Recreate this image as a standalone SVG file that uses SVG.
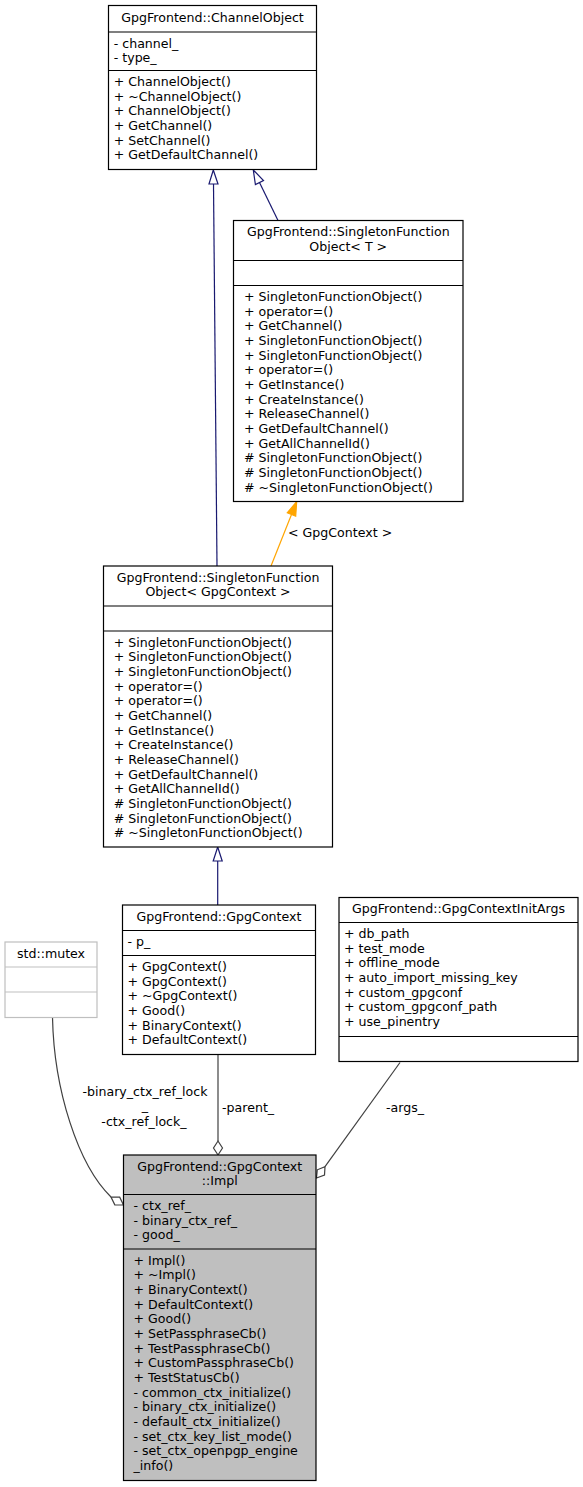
<svg xmlns="http://www.w3.org/2000/svg" width="583" height="1487" viewBox="0 0 583 1487">
<style>
text{font-family:"DejaVu Sans","Liberation Sans",sans-serif;font-size:12.6px;fill:#000}
.t{text-anchor:middle}
.box{fill:#fff;stroke:#000;stroke-width:1.2}
.ext{fill:#fff;stroke:#bfbfbf;stroke-width:1.2}
.cur{fill:#bfbfbf;stroke:#000;stroke-width:1.2}
.sep{stroke:#000;stroke-width:1.2}
.sepx{stroke:#bfbfbf;stroke-width:1.2}
.inh{fill:none;stroke:#191970;stroke-width:1.2}
.inhh{fill:#fff;stroke:#191970;stroke-width:1.2}
.tpl{fill:none;stroke:#ffa500;stroke-width:1.2}
.tplh{fill:#ffa500;stroke:#ffa500;stroke-width:1.2}
.use{fill:none;stroke:#404040;stroke-width:1.2}
.useh{fill:#fff;stroke:#404040;stroke-width:1.2}
</style>
<rect width="583" height="1487" fill="#fff"/>
<g id="connectors">
  <path class="inh" d="M217,566 L213.5,184"/>
  <polygon class="inhh" points="213.3,170 218,184 209,184"/>
  <path class="inh" d="M278,220.5 L259.5,182.6"/>
  <polygon class="inhh" points="253.3,170 263.5,180.6 255.4,184.6"/>
  <path class="tpl" d="M271,566 L291.5,514.5"/>
  <polygon class="tplh" points="296.7,501.5 295.7,516.2 287.3,512.8"/>
  <text x="288" y="537">&lt; GpgContext &gt;</text>
  <path class="inh" d="M217.7,905 L217.7,861"/>
  <polygon class="inhh" points="217.7,847 222.2,861 213.2,861"/>
  <path class="use" d="M218,1054.5 L218,1141"/>
  <polygon class="useh" points="218,1155 222.5,1148 218,1141 213.5,1148"/>
  <text x="222" y="1112">-parent_</text>
  <path class="use" d="M52.5,1017.5 C54,1090 78,1165 111,1197"/>
  <polygon class="useh" points="123.5,1205 119.7,1197.2 111,1197 114.8,1204.8"/>
  <text class="t" x="145" y="1096">-binary_ctx_ref_lock</text>
  <text class="t" x="145" y="1110">_</text>
  <text class="t" x="144" y="1126">-ctx_ref_lock_</text>
  <path class="use" d="M400,1062.5 L325,1166.7"/>
  <polygon class="useh" points="316.5,1178 324.5,1175 325,1166.7 317.3,1169.8"/>
  <text x="386" y="1112">-args_</text>
</g>
<g id="ChannelObject">
  <rect class="box" x="108.5" y="5.5" width="208" height="164"/>
  <line class="sep" x1="108.5" y1="32" x2="316.5" y2="32"/>
  <line class="sep" x1="108.5" y1="70.5" x2="316.5" y2="70.5"/>
  <text class="t" x="212.5" y="21.5">GpgFrontend::ChannelObject</text>
  <text x="113.7" y="47.5"><tspan x="113.7">- channel_</tspan><tspan x="113.7" dy="14.67">- type_</tspan></text>
  <text x="113.7" y="86"><tspan x="113.7">+ ChannelObject()</tspan><tspan x="113.7" dy="14.67">+ ~ChannelObject()</tspan><tspan x="113.7" dy="14.67">+ ChannelObject()</tspan><tspan x="113.7" dy="14.67">+ GetChannel()</tspan><tspan x="113.7" dy="14.67">+ SetChannel()</tspan><tspan x="113.7" dy="14.67">+ GetDefaultChannel()</tspan></text>
</g>
<g id="SingletonFunctionObjectT">
  <rect class="box" x="233.5" y="220.5" width="229.5" height="281"/>
  <line class="sep" x1="233.5" y1="260.5" x2="463" y2="260.5"/>
  <line class="sep" x1="233.5" y1="285.5" x2="463" y2="285.5"/>
  <text class="t" x="348.25" y="236"><tspan x="348.25">GpgFrontend::SingletonFunction</tspan><tspan x="348.25" dy="14.67">Object&lt; T &gt;</tspan></text>
  <text x="244" y="301"><tspan x="244">+ SingletonFunctionObject()</tspan><tspan x="244" dy="14.67">+ operator=()</tspan><tspan x="244" dy="14.67">+ GetChannel()</tspan><tspan x="244" dy="14.67">+ SingletonFunctionObject()</tspan><tspan x="244" dy="14.67">+ SingletonFunctionObject()</tspan><tspan x="244" dy="14.67">+ operator=()</tspan><tspan x="244" dy="14.67">+ GetInstance()</tspan><tspan x="244" dy="14.67">+ CreateInstance()</tspan><tspan x="244" dy="14.67">+ ReleaseChannel()</tspan><tspan x="244" dy="14.67">+ GetDefaultChannel()</tspan><tspan x="244" dy="14.67">+ GetAllChannelId()</tspan><tspan x="244" dy="14.67"># SingletonFunctionObject()</tspan><tspan x="244" dy="14.67"># SingletonFunctionObject()</tspan><tspan x="244" dy="14.67"># ~SingletonFunctionObject()</tspan></text>
</g>
<g id="SingletonFunctionObjectGpgContext">
  <rect class="box" x="103.5" y="566" width="229" height="281"/>
  <line class="sep" x1="103.5" y1="606" x2="332.5" y2="606"/>
  <line class="sep" x1="103.5" y1="631" x2="332.5" y2="631"/>
  <text class="t" x="218" y="581.5"><tspan x="218">GpgFrontend::SingletonFunction</tspan><tspan x="218" dy="14.67">Object&lt; GpgContext &gt;</tspan></text>
  <text x="113.7" y="646.5"><tspan x="113.7">+ SingletonFunctionObject()</tspan><tspan x="113.7" dy="14.67">+ SingletonFunctionObject()</tspan><tspan x="113.7" dy="14.67">+ SingletonFunctionObject()</tspan><tspan x="113.7" dy="14.67">+ operator=()</tspan><tspan x="113.7" dy="14.67">+ operator=()</tspan><tspan x="113.7" dy="14.67">+ GetChannel()</tspan><tspan x="113.7" dy="14.67">+ GetInstance()</tspan><tspan x="113.7" dy="14.67">+ CreateInstance()</tspan><tspan x="113.7" dy="14.67">+ ReleaseChannel()</tspan><tspan x="113.7" dy="14.67">+ GetDefaultChannel()</tspan><tspan x="113.7" dy="14.67">+ GetAllChannelId()</tspan><tspan x="113.7" dy="14.67"># SingletonFunctionObject()</tspan><tspan x="113.7" dy="14.67"># SingletonFunctionObject()</tspan><tspan x="113.7" dy="14.67"># ~SingletonFunctionObject()</tspan></text>
</g>
<g id="GpgContext">
  <rect class="box" x="122.5" y="905" width="193" height="149.5"/>
  <line class="sep" x1="122.5" y1="930.5" x2="315.5" y2="930.5"/>
  <line class="sep" x1="122.5" y1="955.5" x2="315.5" y2="955.5"/>
  <text class="t" x="219" y="921">GpgFrontend::GpgContext</text>
  <text x="127.5" y="946">- p_</text>
  <text x="127.5" y="971"><tspan x="127.5">+ GpgContext()</tspan><tspan x="127.5" dy="14.67">+ GpgContext()</tspan><tspan x="127.5" dy="14.67">+ ~GpgContext()</tspan><tspan x="127.5" dy="14.67">+ Good()</tspan><tspan x="127.5" dy="14.67">+ BinaryContext()</tspan><tspan x="127.5" dy="14.67">+ DefaultContext()</tspan></text>
</g>
<g id="GpgContextInitArgs">
  <rect class="box" x="339" y="897.5" width="239" height="164"/>
  <line class="sep" x1="339" y1="922.5" x2="578" y2="922.5"/>
  <line class="sep" x1="339" y1="1036.5" x2="578" y2="1036.5"/>
  <text class="t" x="458.5" y="913">GpgFrontend::GpgContextInitArgs</text>
  <text x="344" y="938"><tspan x="344">+ db_path</tspan><tspan x="344" dy="14.67">+ test_mode</tspan><tspan x="344" dy="14.67">+ offline_mode</tspan><tspan x="344" dy="14.67">+ auto_import_missing_key</tspan><tspan x="344" dy="14.67">+ custom_gpgconf</tspan><tspan x="344" dy="14.67">+ custom_gpgconf_path</tspan><tspan x="344" dy="14.67">+ use_pinentry</tspan></text>
</g>
<g id="stdmutex">
  <rect class="ext" x="5" y="942" width="92" height="75.5"/>
  <line class="sepx" x1="5" y1="967" x2="97" y2="967"/>
  <line class="sepx" x1="5" y1="992" x2="97" y2="992"/>
  <text class="t" x="51" y="958">std::mutex</text>
</g>
<g id="Impl">
  <rect class="cur" x="123.5" y="1155" width="192.5" height="325.5"/>
  <line class="sep" x1="123.5" y1="1194.5" x2="316" y2="1194.5"/>
  <line class="sep" x1="123.5" y1="1249" x2="316" y2="1249"/>
  <text class="t" x="219.75" y="1170.5"><tspan x="219.75">GpgFrontend::GpgContext</tspan><tspan x="219.75" dy="14.67">::Impl</tspan></text>
  <text x="133.5" y="1210"><tspan x="133.5">- ctx_ref_</tspan><tspan x="133.5" dy="14.67">- binary_ctx_ref_</tspan><tspan x="133.5" dy="14.67">- good_</tspan></text>
  <text x="133.5" y="1264.5"><tspan x="133.5">+ Impl()</tspan><tspan x="133.5" dy="14.67">+ ~Impl()</tspan><tspan x="133.5" dy="14.67">+ BinaryContext()</tspan><tspan x="133.5" dy="14.67">+ DefaultContext()</tspan><tspan x="133.5" dy="14.67">+ Good()</tspan><tspan x="133.5" dy="14.67">+ SetPassphraseCb()</tspan><tspan x="133.5" dy="14.67">+ TestPassphraseCb()</tspan><tspan x="133.5" dy="14.67">+ CustomPassphraseCb()</tspan><tspan x="133.5" dy="14.67">+ TestStatusCb()</tspan><tspan x="133.5" dy="14.67">- common_ctx_initialize()</tspan><tspan x="133.5" dy="14.67">- binary_ctx_initialize()</tspan><tspan x="133.5" dy="14.67">- default_ctx_initialize()</tspan><tspan x="133.5" dy="14.67">- set_ctx_key_list_mode()</tspan><tspan x="133.5" dy="14.67">- set_ctx_openpgp_engine</tspan><tspan x="133.5" dy="14.67">_info()</tspan></text>
</g>
</svg>
